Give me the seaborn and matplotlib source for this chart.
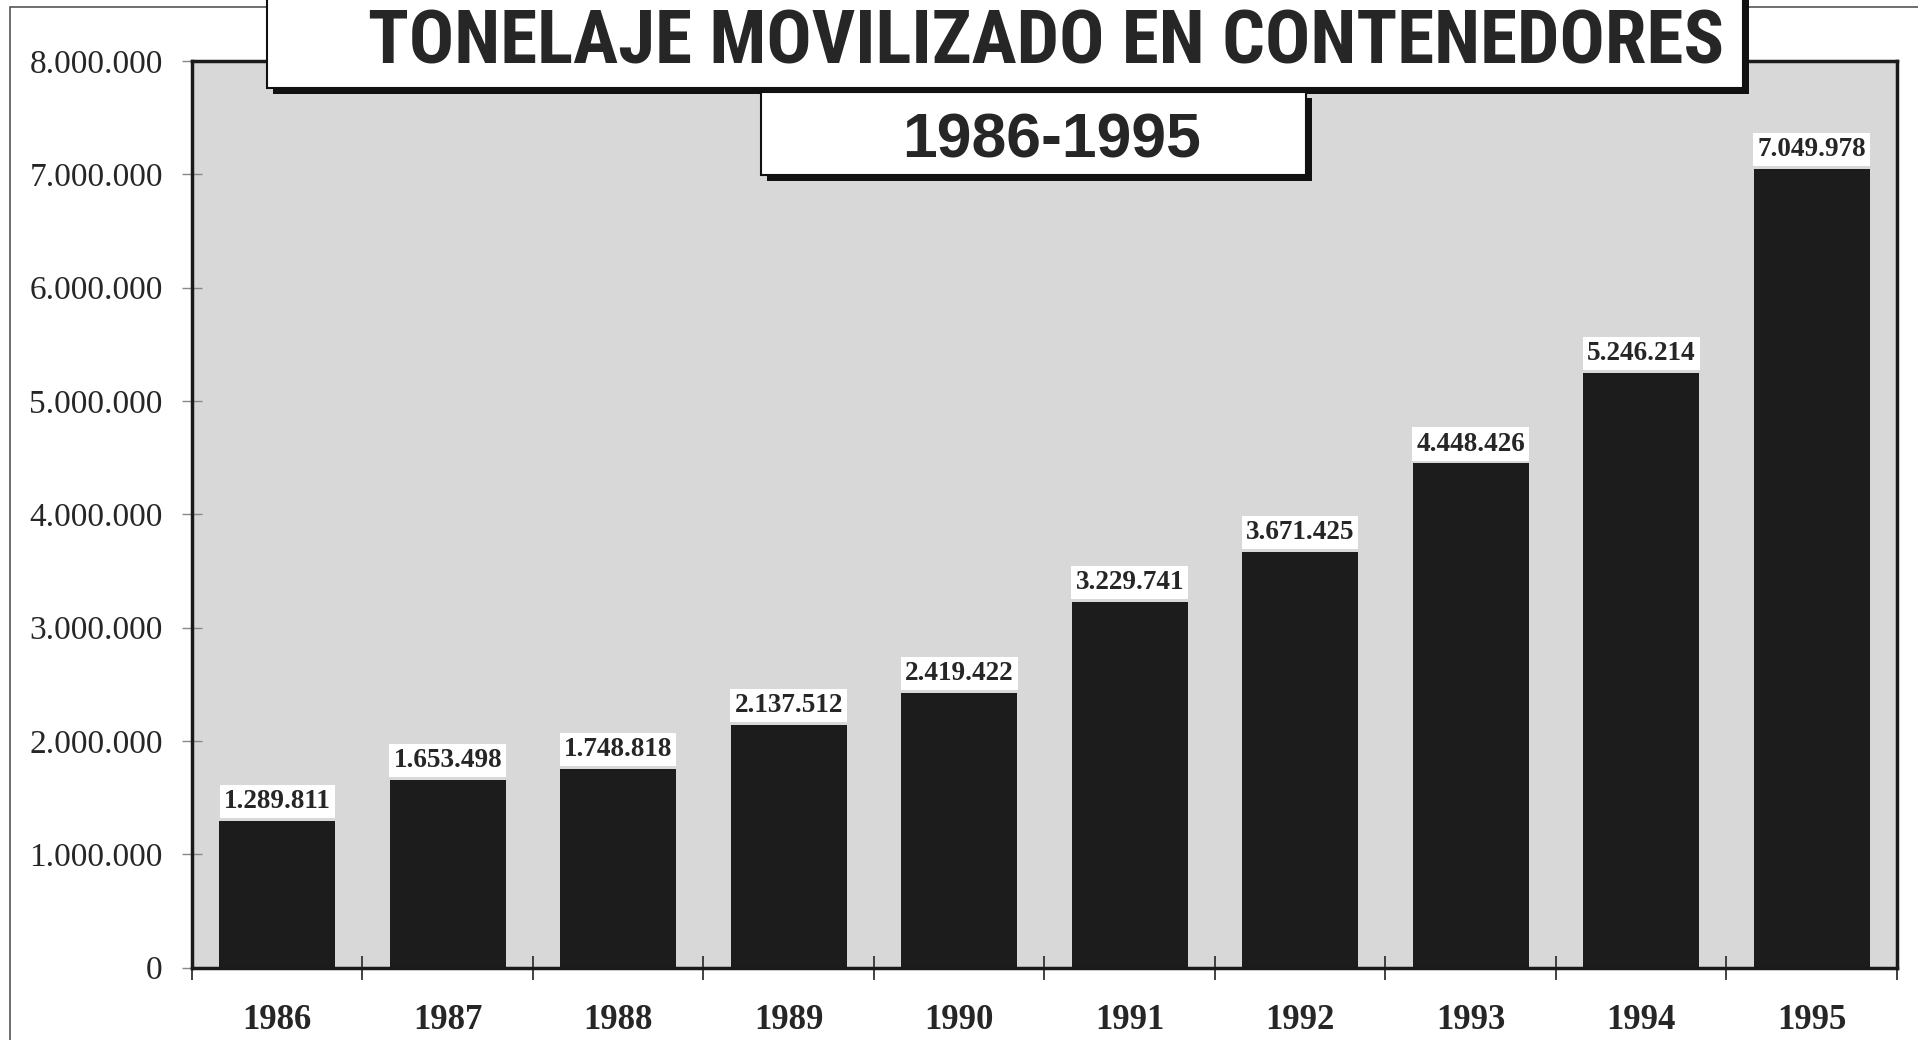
import matplotlib
matplotlib.use("Agg")
import matplotlib.pyplot as plt
import seaborn as sns
from matplotlib.patches import Rectangle
from matplotlib.ticker import FixedLocator, FuncFormatter
from matplotlib import font_manager
from matplotlib.font_manager import FontProperties

# datos
years = ["1986", "1987", "1988", "1989", "1990", "1991", "1992", "1993", "1994", "1995"]
tonnes = [1289811, 1653498, 1748818, 2137512, 2419422, 3229741, 3671425, 4448426, 5246214, 7049978]
y_ticks = [0, 1000000, 2000000, 3000000, 4000000, 5000000, 6000000, 7000000, 8000000]
title = "TONELAJE MOVILIZADO EN CONTENEDORES"
subtitle = "1986-1995"

W, H = 1918, 1040


def miles(v):
    # separador de miles con punto
    return f"{int(v):,}".replace(",", ".")


def px_rect(x0, y0, x1, y1, **kw):
    # rectangulo en pixeles (origen arriba a la izquierda)
    return Rectangle((x0 / W, 1 - y1 / H), (x1 - x0) / W, (y1 - y0) / H,
                     transform=fig.transFigure, clip_on=False, **kw)


def condensed_bold():
    # buscar una fuente estrecha y negrita para el titulo
    best = None
    for f in font_manager.fontManager.ttflist:
        name = f.name.lower()
        narrow = ("narrow" in name or "condensed" in name
                  or str(f.stretch) in ("condensed", "semi-condensed", "extra-condensed", "ultra-condensed"))
        w = f.weight if isinstance(f.weight, int) else {"bold": 700, "heavy": 800, "black": 900}.get(str(f.weight), 400)
        if narrow and w >= 600 and f.style == "normal" and "serif" not in name.replace("sans", ""):
            score = ("liberation" in name) * 2 + ("noto" in name) + ("roboto" in name)
            if best is None or score > best[0]:
                best = (score, f.fname)
    if best:
        return FontProperties(fname=best[1])
    return FontProperties(family="Liberation Sans", weight="bold")


sns.set_style("white")
plt.rcParams["font.family"] = ["Liberation Serif", "DejaVu Serif"]

fig = plt.figure(figsize=(W / 100, H / 100), dpi=100)
ax = fig.add_axes([0.1001, 0.0697, 0.8889, 0.8716])
ax.set_facecolor("#d8d8d8")

sns.barplot(x=years, y=tonnes, color="#1c1c1c", saturation=1, width=0.68,
            linewidth=0, ax=ax)

ax.set_xlim(-0.5, 9.5)
ax.set_ylim(0, 8000000)
ax.set_yticks(y_ticks)
ax.yaxis.set_major_formatter(FuncFormatter(lambda v, _: miles(v)))
ax.set_xlabel("")
ax.set_ylabel("")

# marcas entre categorias
ax.xaxis.set_minor_locator(FixedLocator([i - 0.5 for i in range(len(years) + 1)]))
ax.tick_params(axis="x", which="minor", bottom=True, direction="inout",
               length=17, width=1.3, color="#333333")
ax.tick_params(axis="x", which="major", bottom=True, length=0, pad=26, labelsize=25)
for lbl in ax.get_xticklabels():
    lbl.set_fontweight("bold")
ax.tick_params(axis="y", which="major", left=True, direction="inout",
               length=14, width=1, color="#888888", pad=14, labelsize=24)

for s in ax.spines.values():
    s.set_color("#1a1a1a")
    s.set_linewidth(2.5)

for container in ax.containers:
    ax.bar_label(container, labels=[miles(v) for v in tonnes], padding=5,
                 fontsize=19.5, fontweight="bold",
                 bbox=dict(boxstyle="square,pad=0.15", fc="white", ec="none"))

# marco exterior
fig.add_artist(px_rect(10, 7, 1990, 1100, fill=False, ec="#555555", lw=1.2))

# caja del titulo con sombra
fig.add_artist(px_rect(273, -20, 1749, 94, fc="#111111", ec="none", zorder=2))
fig.add_artist(px_rect(267, -20, 1743, 88, fc="white", ec="#111111", lw=1.5, zorder=3))
tprop = condensed_bold()
tprop.set_size(60)
t = fig.text(1046 / W, 1 - 64 / H, title, ha="center", va="baseline",
             fontproperties=tprop, zorder=4)

# caja del subtitulo con sombra
fig.add_artist(px_rect(767, 98, 1312, 181, fc="#111111", ec="none", zorder=2))
fig.add_artist(px_rect(761, 92, 1306, 175, fc="white", ec="#111111", lw=1.5, zorder=3))
fig.text(1052 / W, 1 - 157 / H, subtitle, ha="center", va="baseline",
         fontsize=45, fontweight="bold", family=["Liberation Sans", "DejaVu Sans"], zorder=4)

# ajustar el ancho del titulo
fig.canvas.draw()
tw = t.get_window_extent().width
if tw > 1358:
    t.set_fontsize(60 * 1358 / tw)

fig.savefig("out.png", dpi=100)
